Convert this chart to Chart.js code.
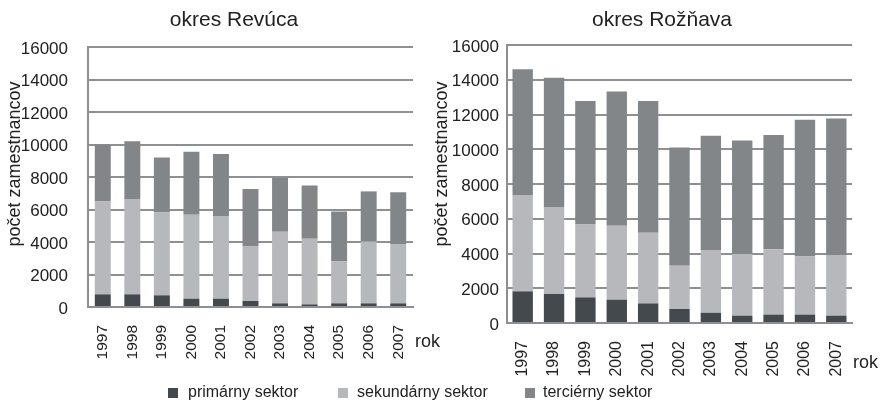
<!DOCTYPE html>
<html><head><meta charset="utf-8">
<script src="https://cdn.jsdelivr.net/npm/chart.js@4"></script>
<style>
body{margin:0;width:883px;height:406px;background:#fff;position:relative;overflow:hidden;font-family:"Liberation Sans",Arial,sans-serif;}
.box{position:absolute;top:0;height:406px;}
#lw{left:0;width:440px;}
#rw{left:420px;width:463px;}
.lt{position:absolute;top:382px;font-size:16px;line-height:20px;color:#222;white-space:nowrap;}
.sw{position:absolute;width:10px;height:10px;top:388px;}
</style></head>
<body>
<div class="box" id="lw"><canvas id="c1" width="440" height="406"></canvas></div>
<div class="box" id="rw"><canvas id="c2" width="463" height="406"></canvas></div>
<div id="legend"></div>
<script>
const years = ['1997','1998','1999','2000','2001','2002','2003','2004','2005','2006','2007'];
const seriesNames = ['primárny sektor','sekundárny sektor','terciérny sektor'];
const seriesColors = ['#43494c','#b7b8bb','#838689'];
const yTicks = [0,2000,4000,6000,8000,10000,12000,14000,16000];

const revucaPrimary   = [780,780,720,510,510,370,225,160,225,225,225];
const revucaSecondary = [5720,5860,5100,5170,5090,3360,4400,4040,2600,3800,3650];
const revucaTertiary  = [3500,3560,3380,3870,3810,3530,3320,3280,3050,3090,3180];

const roznavaPrimary   = [1820,1670,1475,1340,1130,805,590,420,480,480,420];
const roznavaSecondary = [5540,5000,4195,4255,4060,2495,3610,3545,3770,3350,3490];
const roznavaTertiary  = [7240,7450,7110,7725,7590,6800,6570,6535,6575,7870,7855];

const FONT = "'Liberation Sans', Arial, sans-serif";
const TXT = '#222222';
const GRID = '#8d8f92';
Chart.defaults.font.family = FONT;
Chart.defaults.color = TXT;

const textPlugin = {
  id: 'texts',
  afterDraw(chart, args, o) {
    const ctx = chart.ctx, a = chart.chartArea;
    ctx.save();
    ctx.fillStyle = TXT;
    ctx.textAlign = 'center';
    ctx.textBaseline = 'middle';
    ctx.font = '21px ' + FONT;
    ctx.fillText(o.title, o.titleX, o.titleY);
    ctx.save();
    ctx.translate(o.yTitleX, o.yTitleY);
    ctx.rotate(-Math.PI / 2);
    ctx.font = '18px ' + FONT;
    ctx.fillText(o.yTitle, 0, 0);
    ctx.restore();
    ctx.font = '18px ' + FONT;
    ctx.textAlign = 'left';
    ctx.fillText(o.xTitle, a.right + o.xTitleDx, a.bottom + o.xTitleDy);
    ctx.restore();
  }
};

function makeChart(id, data, cfg) {
  return new Chart(document.getElementById(id), {
    type: 'bar',
    data: {
      labels: years,
      datasets: data.map((d, i) => ({
        label: seriesNames[i], data: d, backgroundColor: seriesColors[i],
        borderWidth: 0, categoryPercentage: 1, barPercentage: cfg.barPct
      }))
    },
    options: {
      responsive: false, animation: false,
      layout: { padding: cfg.padding },
      plugins: {
        legend: { display: false }, title: { display: false }, tooltip: { enabled: false },
        texts: cfg.texts
      },
      scales: {
        x: {
          stacked: true,
          grid: { display: false },
          border: { color: GRID, width: 2 },
          ticks: { autoSkip: false, minRotation: 90, maxRotation: 90, padding: 10, font: { size: cfg.xFont }, color: TXT },
          afterFit(s) { s.height = cfg.xHeight; }
        },
        y: {
          stacked: true, min: 0, max: 16000,
          afterBuildTicks(s) { s.ticks = yTicks.map(v => ({ value: v })); },
          grid: { color: GRID, lineWidth: 2, drawTicks: false },
          border: { color: GRID, width: 2 },
          ticks: { padding: cfg.yPad, font: { size: 17 }, color: TXT, labelOffset: 2, callback: v => String(v) },
          afterFit(s) { s.width = cfg.yWidth; }
        }
      }
    },
    plugins: [textPlugin]
  });
}

makeChart('c1', [revucaPrimary, revucaSecondary, revucaTertiary], {
  barPct: 0.54, xFont: 15.5, xHeight: 99, yWidth: 88, yPad: 20,
  padding: { top: 47, right: 27, bottom: 0, left: 0 },
  texts: { title: 'okres Revúca', titleX: 234, titleY: 20, yTitle: 'počet zamestnancov', yTitleX: 15, yTitleY: 164, xTitle: 'rok', xTitleDx: 2, xTitleDy: 35 }
});
makeChart('c2', [roznavaPrimary, roznavaSecondary, roznavaTertiary], {
  barPct: 0.65, xFont: 16, xHeight: 83, yWidth: 87, yPad: 8,
  padding: { top: 45, right: 31, bottom: 0, left: 0 },
  texts: { title: 'okres Rožňava', titleX: 242, titleY: 20, yTitle: 'počet zamestnancov', yTitleX: 22, yTitleY: 164, xTitle: 'rok', xTitleDx: 1, xTitleDy: 40 }
});

const legendPos = [[168, 188], [338, 357], [525, 543]];
const lg = document.getElementById('legend');
seriesNames.forEach((n, i) => {
  const s = document.createElement('div');
  s.className = 'sw'; s.style.left = legendPos[i][0] + 'px'; s.style.background = seriesColors[i];
  const t = document.createElement('div');
  t.className = 'lt'; t.style.left = legendPos[i][1] + 'px'; t.textContent = n;
  lg.appendChild(s); lg.appendChild(t);
});
</script>
</body></html>
